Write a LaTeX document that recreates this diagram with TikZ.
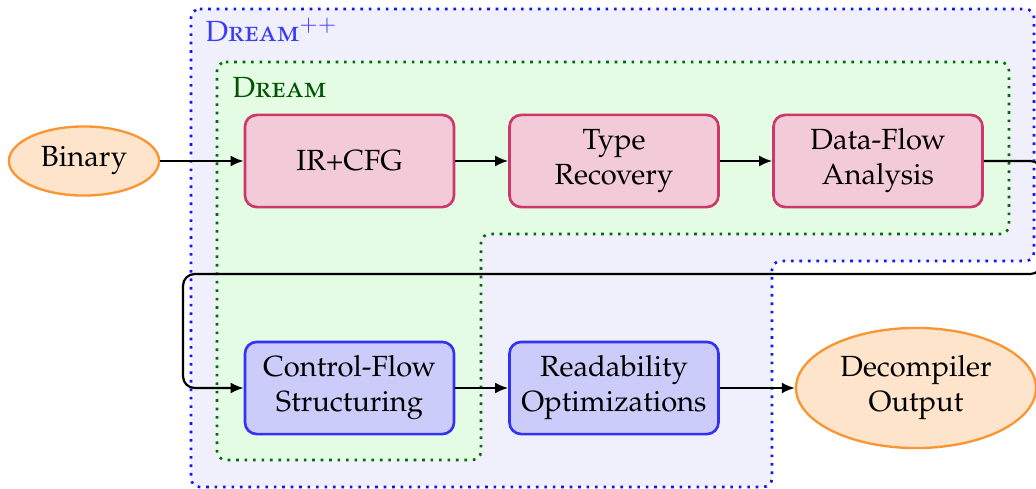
\documentclass[tikz,border=0pt]{standalone}
\usepackage[T1]{fontenc}
\usepackage[sc]{mathpazo}
\usetikzlibrary{shapes.geometric,arrows.meta}

\definecolor{regblue}{RGB}{240,240,252}
\definecolor{regbluedot}{RGB}{20,20,250}
\definecolor{reggreen}{RGB}{228,252,228}
\definecolor{reggreendot}{RGB}{0,110,0}
\definecolor{pinkfill}{RGB}{242,202,216}
\definecolor{pinkdraw}{RGB}{205,55,105}
\definecolor{bluefill}{RGB}{204,204,250}
\definecolor{bluedraw}{RGB}{50,50,245}
\definecolor{orfill}{RGB}{255,228,204}
\definecolor{ordraw}{RGB}{250,150,50}
\definecolor{dreamblue}{RGB}{60,60,245}
\definecolor{dreamgreen}{RGB}{0,85,0}

\tikzset{
  region/.style={dotted, line width=0.9pt, rounded corners=3pt},
  stagebox/.style={rectangle, rounded corners=4pt, minimum width=71.7pt,
    minimum height=31.6pt, line width=0.9pt, align=center, inner sep=0pt},
  pinkbox/.style={stagebox, draw=pinkdraw, fill=pinkfill},
  bluebox/.style={stagebox, draw=bluedraw, fill=bluefill},
  endpoint/.style={ellipse, draw=ordraw, fill=orfill, line width=0.8pt,
    align=center, inner sep=0pt},
  flow/.style={-{Latex[length=4.5pt,width=3.8pt]}, line width=0.75pt,
    rounded corners=4pt},
  reglabel/.style={anchor=base west, inner sep=0pt}
}

\begin{document}
\begin{tikzpicture}[x=0.343pt, y=-0.343pt]
\useasboundingbox (0,0) rectangle (1036,489);

% outer region: Dream++
\draw[region, draw=regbluedot, fill=regblue]
  (191,9) -- (1034,9) -- (1034,261) -- (772,261) -- (772,487)
  -- (191,487) -- cycle;
% inner region: Dream
\draw[region, draw=reggreendot, fill=reggreen]
  (217,62) -- (1009,62) -- (1009,234) -- (481,234) -- (481,460)
  -- (217,460) -- cycle;

\node[reglabel, text=dreamblue] (lblpp) at (205,42) {\textsc{Dream}$^{++}$};
\node[reglabel, text=dreamgreen] (lbl) at (232,98) {\textsc{Dream}};

% pipeline stages
\node[pinkbox] (ir) at (349.5,161) {IR+CFG};
\node[pinkbox] (tr) at (614,161) {Type\\Recovery};
\node[pinkbox] (df) at (878,161) {Data-Flow\\Analysis};
\node[bluebox] (cf) at (349.5,388) {Control-Flow\\Structuring};
\node[bluebox] (ro) at (614,388) {Readability\\Optimizations};

% input and output
\node[endpoint, minimum width=51.5pt, minimum height=23.7pt] (bin) at (84,161) {Binary};
\node[endpoint, minimum width=82.3pt, minimum height=41.2pt] (out) at (916,388) {Decompiler\\Output};

% connectors
\draw[flow] (bin) -- (ir);
\draw[flow] (ir) -- (tr);
\draw[flow] (tr) -- (df);
\coordinate (c1) at (1042,161);
\coordinate (c2) at (1042,274);
\coordinate (c3) at (183,274);
\coordinate (c4) at (183,388);
\draw[flow] (df.east) -- (c1) -- (c2) -- (c3) -- (c4) -- (cf.west);
\draw[flow] (cf) -- (ro);
\draw[flow] (ro) -- (out);
\end{tikzpicture}
\end{document}
